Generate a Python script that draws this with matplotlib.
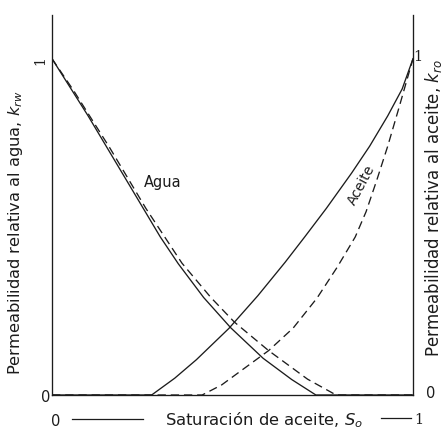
import matplotlib
matplotlib.use("Agg")
import matplotlib.pyplot as plt
from matplotlib.lines import Line2D

# ---- data ----
water_x = [0.0, 0.10, 0.20, 0.30, 0.35, 0.42, 0.495, 0.585, 0.664, 0.731, 1.0]
water_y = [1.0, 0.83, 0.65, 0.47, 0.39, 0.29, 0.200, 0.109, 0.046, 0.0, 0.0]

water_d_x = [0.0, 0.06, 0.16, 0.26, 0.36, 0.44, 0.505, 0.60, 0.708, 0.787, 1.0]
water_d_y = [1.0, 0.905, 0.735, 0.555, 0.392, 0.29, 0.217, 0.132, 0.047, 0.0, 0.0]

oil_x = [0.0, 0.276, 0.34, 0.40, 0.49, 0.57, 0.646, 0.70, 0.76, 0.83, 0.88, 0.93, 0.97, 1.0]
oil_y = [0.0, 0.0, 0.05, 0.105, 0.198, 0.295, 0.395, 0.47, 0.555, 0.66, 0.74, 0.83, 0.91, 1.0]

oil_d_x = [0.0, 0.416, 0.47, 0.526, 0.60, 0.668, 0.734, 0.79, 0.84, 0.87, 0.90, 0.93, 0.96, 1.0]
oil_d_y = [0.0, 0.0, 0.03, 0.074, 0.132, 0.199, 0.288, 0.38, 0.47, 0.545, 0.64, 0.74, 0.85, 1.0]

ylabel_left = "Permeabilidad relativa al agua, $k_{rw}$"
ylabel_right = "Permeabilidad relativa al aceite, $k_{ro}$"
xlabel = "Saturación de aceite, $S_o$"
label_water = "Agua"
label_oil = "Aceite"

plt.rcParams['font.family'] = ['DejaVu Sans']
plt.rcParams['lines.scale_dashes'] = False

W, H = 442, 429
fig = plt.figure(figsize=(W / 100, H / 100), dpi=100)
fig.patch.set_facecolor('white')

def fp(x, y):
    return (x / W, 1 - y / H)

ax = fig.add_axes([52 / W, 34 / H, 361 / W, 380 / H])
ax.set_xlim(0, 1)
ax.set_ylim(0, 380 / 336.3)

ink = '#1c1c1c'
lw = 0.95
ax.plot(water_x, water_y, color=ink, lw=lw)
ax.plot(water_d_x, water_d_y, color=ink, lw=lw, dashes=(6, 3.5))
ax.plot(oil_x, oil_y, color=ink, lw=lw)
ax.plot(oil_d_x, oil_d_y, color=ink, lw=lw, dashes=(6, 3.5))

for s in ['left', 'right', 'bottom']:
    ax.spines[s].set_color(ink)
    ax.spines[s].set_linewidth(lw)
ax.spines['top'].set_visible(False)
ax.set_xticks([])
ax.set_yticks([])
ax.patch.set_alpha(0)

ax.text(0.306, 0.631, label_water, fontsize=10.5, color=ink, ha='center', va='center')
ax.text(0.858, 0.625, label_oil, fontsize=10, color=ink, ha='center', va='center',
        rotation=62, rotation_mode='anchor')

# tick-like labels
fig.text(*fp(40, 61), "1", fontsize=10, color=ink, rotation=90, ha='center', va='center',
         family='DejaVu Serif')
fig.text(*fp(46, 397), "0", fontsize=10.5, color=ink, ha='center', va='center')
fig.text(*fp(418, 57), "1", fontsize=10.5, color=ink, ha='center', va='center', family='DejaVu Serif')
fig.text(*fp(431, 394), "0", fontsize=10.5, color=ink, ha='center', va='center')
fig.text(*fp(56, 421), "0", fontsize=10.5, color=ink, ha='center', va='center')
fig.text(*fp(419, 420), "1", fontsize=10.5, color=ink, ha='center', va='center', family='DejaVu Serif')

tl = fig.text(*fp(16, 233), ylabel_left, fontsize=10, color=ink, rotation=90,
              ha='center', va='center')
tr = fig.text(*fp(433, 208), ylabel_right, fontsize=12, color=ink, rotation=90,
              ha='center', va='center')
tx = fig.text(264 / W, 1 - 425 / H, xlabel, fontsize=11.8, color=ink, ha='center', va='baseline')

fig.add_artist(Line2D([72 / W, 143 / W], [1 - 419 / H, 1 - 419 / H], color=ink, lw=0.9))
fig.add_artist(Line2D([381 / W, 411 / W], [1 - 418 / H, 1 - 418 / H], color=ink, lw=0.9))

# fit the left label length to the reference
fig.canvas.draw()
r = fig.canvas.get_renderer()
for _ in range(2):
    bb = tl.get_window_extent(r)
    tl.set_fontsize(tl.get_fontsize() * 283 / bb.height)
    fig.canvas.draw()

fig.savefig("out.png", dpi=100, facecolor='white')
